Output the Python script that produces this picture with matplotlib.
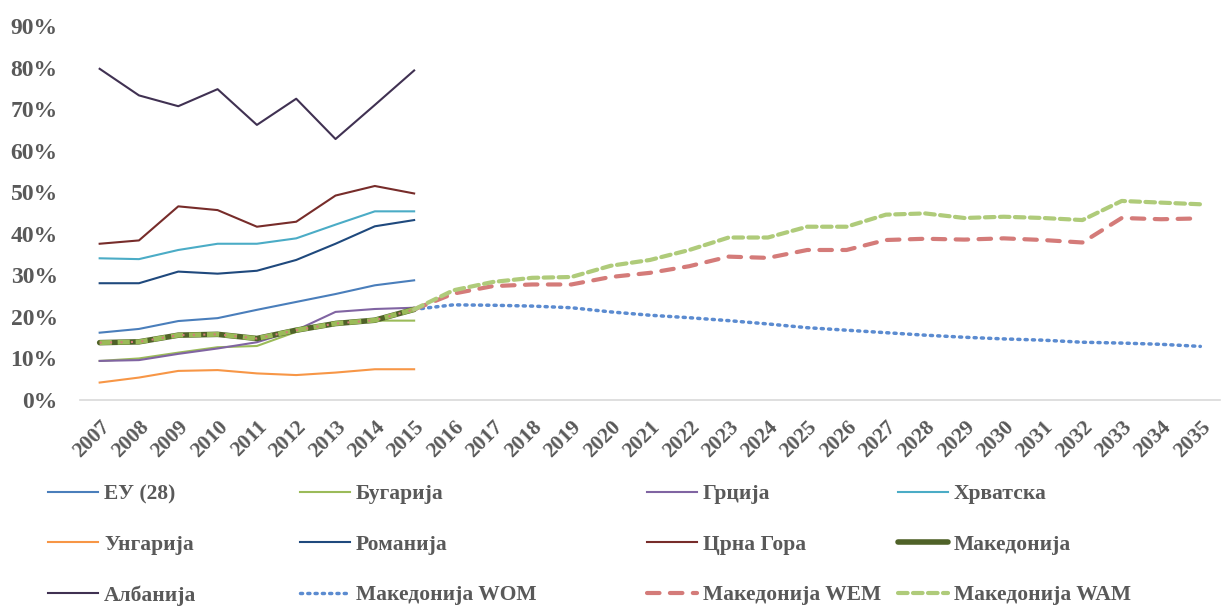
import matplotlib
matplotlib.use('Agg')
import matplotlib.pyplot as plt
from matplotlib.ticker import PercentFormatter

plt.rcParams['font.family'] = ['Liberation Serif', 'DejaVu Serif']

years = [str(y) for y in range(2007, 2036)]

eu28 = [16.2, 17.1, 19.0, 19.7, 21.7, 23.6, 25.5, 27.6, 28.8]
bulgaria = [9.4, 10.0, 11.4, 12.7, 13.0, 16.4, 18.8, 19.1, 19.1]
greece = [9.4, 9.6, 11.1, 12.4, 13.9, 16.8, 21.2, 21.9, 22.2]
croatia = [34.1, 33.9, 36.1, 37.6, 37.6, 38.9, 42.2, 45.4, 45.4]
hungary = [4.2, 5.4, 7.0, 7.2, 6.4, 6.0, 6.6, 7.4, 7.4]
romania = [28.1, 28.1, 30.9, 30.4, 31.1, 33.7, 37.6, 41.8, 43.3]
montenegro = [37.6, 38.4, 46.6, 45.7, 41.7, 42.9, 49.2, 51.5, 49.7]
macedonia = [13.8, 14.0, 15.6, 15.8, 14.8, 16.8, 18.4, 19.2, 21.8]
albania = [79.7, 73.3, 70.7, 74.8, 66.2, 72.5, 62.8, 71.0, 79.3]

# projections start from the 2015 value
wom = [21.8, 22.9, 22.8, 22.6, 22.2, 21.2, 20.4, 19.8, 19.1, 18.3, 17.4,
       16.8, 16.2, 15.6, 15.1, 14.7, 14.4, 13.9, 13.7, 13.4, 12.9]
wem = [21.8, 25.6, 27.4, 27.8, 27.8, 29.6, 30.6, 32.2, 34.5, 34.2, 36.1,
       36.1, 38.5, 38.8, 38.6, 38.9, 38.5, 37.9, 43.8, 43.5, 43.7]
wam = [21.8, 26.4, 28.4, 29.4, 29.6, 32.3, 33.7, 36.1, 39.1, 39.1, 41.7,
       41.7, 44.6, 44.9, 43.8, 44.1, 43.8, 43.3, 47.9, 47.5, 47.1]

TEXT = '#595959'
W, H = 1221, 609

fig = plt.figure(figsize=(W / 100, H / 100), dpi=100)
ax = fig.add_axes([80 / W, 209 / H, 1140 / W, 374 / H])
x_all = list(range(len(years)))
xh = x_all[:9]
xp = x_all[8:]

def pct(vals):
    return [v / 100 for v in vals]

h_eu, = ax.plot(xh, pct(eu28), color='#4A7EBB', lw=1.5, label='ЕУ (28)')
h_bg, = ax.plot(xh, pct(bulgaria), color='#9BBB59', lw=1.5, label='Бугарија')
h_gr, = ax.plot(xh, pct(greece), color='#8064A2', lw=1.5, label='Грција')
h_hr, = ax.plot(xh, pct(croatia), color='#4BACC6', lw=1.5, label='Хрватска')
h_hu, = ax.plot(xh, pct(hungary), color='#F79646', lw=1.5, label='Унгарија')
h_ro, = ax.plot(xh, pct(romania), color='#1F497D', lw=1.5, label='Романија')
h_me, = ax.plot(xh, pct(montenegro), color='#772C2A', lw=1.5, label='Црна Гора')
h_al, = ax.plot(xh, pct(albania), color='#403152', lw=1.5, label='Албанија')
h_mk, = ax.plot(xh, pct(macedonia), color='#4F6228', lw=4, label='Македонија',
                solid_capstyle='round')
# historical part of scenarios overlays the Macedonia line
ax.plot(xh, pct(macedonia), color='#9BBB59', lw=3.5, ls=(0, (2.5, 1.2)))
ax.plot(xh, pct(macedonia), color='#D47B79', lw=1.5, ls=(0, (1, 4)))
h_wom, = ax.plot(xp, pct(wom), color='#5B8BD0', lw=2.5, ls=(0, (0.6, 1.5)),
                 dash_capstyle='round', label='Македонија WOM')
h_wem, = ax.plot(xp, pct(wem), color='#D47B79', lw=3, ls=(0, (3, 2.5)),
                 dash_capstyle='round', label='Македонија WEM')
h_wam, = ax.plot(xp, pct(wam), color='#AFCB7A', lw=3, ls=(0, (2.3, 1.3)),
                 dash_capstyle='round', label='Македонија WAM')

ax.set_xlim(-0.5, len(years) - 0.5)
ax.set_ylim(0, 0.9)
ax.set_yticks([i / 10 for i in range(10)])
ax.yaxis.set_major_formatter(PercentFormatter(1.0, decimals=0))
ax.set_xticks(x_all)
ax.set_xticklabels(years, rotation=45, ha='right', rotation_mode='anchor')

for s in ['top', 'right', 'left']:
    ax.spines[s].set_visible(False)
ax.spines['bottom'].set_color('#D9D9D9')
ax.spines['bottom'].set_linewidth(1.2)
ax.tick_params(axis='both', length=0, colors=TEXT)
ax.tick_params(axis='y', pad=16, labelsize=17)
ax.tick_params(axis='x', pad=12, labelsize=15.5)
for lbl in ax.get_xticklabels() + ax.get_yticklabels():
    lbl.set_fontweight('bold')

# legend: Excel-style 4 columns at fixed x positions
columns = [[h_eu, h_hu, h_al], [h_bg, h_ro, h_wom],
           [h_gr, h_me, h_wem], [h_hr, h_mk, h_wam]]
col_x = [48, 300, 647, 898]
for col, cx in zip(columns, col_x):
    leg = fig.legend(handles=col, labels=[h.get_label() for h in col],
                     loc='upper left', bbox_to_anchor=(cx / W, 1 - 484 / H),
                     frameon=False, borderpad=0, borderaxespad=0,
                     handlelength=2.3, handletextpad=0.3, labelspacing=1.42,
                     prop={'family': ['Liberation Serif'], 'weight': 'bold', 'size': 15.5})
    for t in leg.get_texts():
        t.set_color(TEXT)

fig.savefig('out.png', dpi=100)
